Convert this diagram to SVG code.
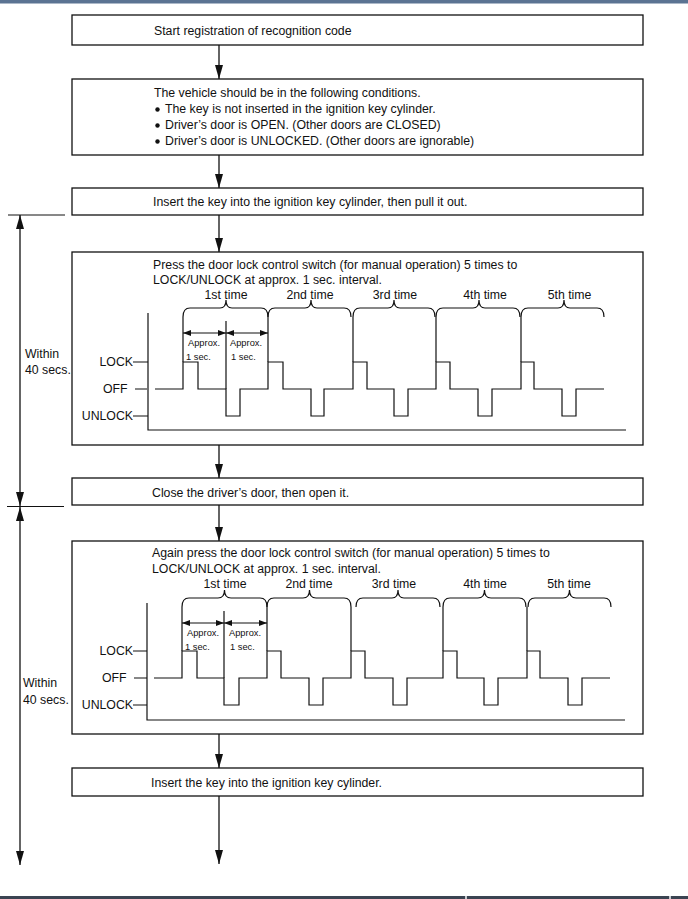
<svg xmlns="http://www.w3.org/2000/svg" width="688" height="899" viewBox="0 0 688 899">
<style>
text{font-family:"Liberation Sans",Arial,sans-serif;font-size:12.3px;fill:#111}
.sm{font-size:9.3px}
.box{fill:#fff;stroke:#111;stroke-width:1.3}
.ln{fill:none;stroke:#111;stroke-width:1.3}
.wv{fill:none;stroke:#111;stroke-width:1.2}
.thin{fill:none;stroke:#111;stroke-width:1}
</style>
<defs>
<marker id="ah" viewBox="0 0 14 8" refX="14" refY="4" markerWidth="14" markerHeight="8" markerUnits="userSpaceOnUse" orient="auto-start-reverse"><path d="M0,0 L14,4 L0,8 z" fill="#111"/></marker>
<marker id="sa" viewBox="0 0 8 6" refX="8" refY="3" markerWidth="8" markerHeight="6" markerUnits="userSpaceOnUse" orient="auto-start-reverse"><path d="M0,0 L8,3 L0,6 z" fill="#111"/></marker>
</defs>
<rect x="0" y="0" width="688" height="3.5" fill="#5b7392"/>
<rect x="0" y="896" width="688" height="3" fill="#3b4452"/>
<rect x="465" y="896" width="2" height="3" fill="#c8ccd0"/>
<rect x="669" y="896" width="2" height="3" fill="#c8ccd0"/>

<g id="connectors">
<line class="ln" x1="219" y1="45" x2="219" y2="79" marker-end="url(#ah)"/>
<line class="ln" x1="219" y1="155" x2="219" y2="188" marker-end="url(#ah)"/>
<line class="ln" x1="219" y1="215" x2="219" y2="252" marker-end="url(#ah)"/>
<line class="ln" x1="219" y1="445" x2="219" y2="478" marker-end="url(#ah)"/>
<line class="ln" x1="219" y1="505" x2="219" y2="541" marker-end="url(#ah)"/>
<line class="ln" x1="219" y1="734" x2="219" y2="768" marker-end="url(#ah)"/>
<line class="ln" x1="219" y1="796" x2="219" y2="864" marker-end="url(#ah)"/>
</g>

<g id="time-limits">
<line class="thin" x1="8" y1="215" x2="65" y2="215"/>
<line class="thin" x1="7" y1="506.5" x2="64" y2="506.5"/>
<line class="ln" x1="20" y1="215" x2="20" y2="506" marker-start="url(#ah)" marker-end="url(#ah)"/>
<line class="ln" x1="20" y1="507" x2="20" y2="865" marker-start="url(#ah)" marker-end="url(#ah)"/>
<text x="25" y="358">Within</text>
<text x="25" y="374">40 secs.</text>
<text x="23" y="687">Within</text>
<text x="23" y="704">40 secs.</text>
</g>

<g id="start">
<rect class="box" x="72" y="15" width="571" height="30"/>
<text x="154" y="35">Start registration of recognition code</text>
</g>

<g id="conditions">
<rect class="box" x="72" y="79" width="571" height="76"/>
<text x="154" y="97">The vehicle should be in the following conditions.</text>
<circle cx="157.5" cy="109.5" r="2.2" fill="#111"/>
<text x="165" y="113">The key is not inserted in the ignition key cylinder.</text>
<circle cx="157.5" cy="125.5" r="2.2" fill="#111"/>
<text x="165" y="129">Driver’s door is OPEN. (Other doors are CLOSED)</text>
<circle cx="157.5" cy="141.5" r="2.2" fill="#111"/>
<text x="165" y="145">Driver’s door is UNLOCKED. (Other doors are ignorable)</text>
</g>

<g id="insert-pull">
<rect class="box" x="72" y="188" width="571" height="27"/>
<text x="153" y="206">Insert the key into the ignition key cylinder, then pull it out.</text>
</g>

<g id="press-1">
<rect class="box" x="72" y="252" width="571" height="193"/>
<text x="153" y="269">Press the door lock control switch (for manual operation) 5 times to</text>
<text x="153" y="284">LOCK/UNLOCK at approx. 1 sec. interval.</text>
<text x="226" y="299" text-anchor="middle">1st time</text>
<text x="310" y="299" text-anchor="middle">2nd time</text>
<text x="395" y="299" text-anchor="middle">3rd time</text>
<text x="485" y="299" text-anchor="middle">4th time</text>
<text x="569.5" y="299" text-anchor="middle">5th time</text>
<path class="wv" d="M183,317 Q183,308 190,308 H220 Q226,308 226,300 Q226,308 232,308 H261 Q268,308 268,317"/>
<path class="wv" d="M268,317 Q268,308 275,308 H305 Q311,308 311,300 Q311,308 317,308 H344 Q351,308 351,317"/>
<path class="wv" d="M353,317 Q353,308 360,308 H388 Q394,308 394,300 Q394,308 400,308 H428 Q435,308 435,317"/>
<path class="wv" d="M436,317 Q436,308 443,308 H473 Q479,308 479,300 Q479,308 485,308 H513 Q520,308 520,317"/>
<path class="wv" d="M521,317 Q521,308 528,308 H558 Q564,308 564,300 Q564,308 570,308 H597 Q604,308 604,317"/>
<path class="wv" d="M183,317 V362 M226,321 V389 M268,317 V362 M353,317 V362 M436,317 V362 M521,317 V362"/>
<line class="wv" x1="183" y1="333" x2="226" y2="333" marker-start="url(#sa)" marker-end="url(#sa)"/>
<line class="wv" x1="226" y1="333" x2="268" y2="333" marker-start="url(#sa)" marker-end="url(#sa)"/>
<text class="sm" x="188" y="346">Approx.</text>
<text class="sm" x="186" y="360">1 sec.</text>
<text class="sm" x="230" y="346">Approx.</text>
<text class="sm" x="231" y="360">1 sec.</text>
<path class="wv" d="M148,313 V430 H626"/>
<text x="133" y="366" text-anchor="end">LOCK</text>
<text x="103" y="393">OFF</text>
<text x="133" y="420" text-anchor="end">UNLOCK</text>
<path class="wv" d="M133,362 H148 M135,389 H147 M133,416 H148"/>
<path class="wv" d="M155,389 H183 V362 H198 V389 H226 V416 H240 V389 H268 V362 H283 V389 H311 V416 H324 V389 H353 V362 H367 V389 H394 V416 H408 V389 H436 V362 H450 V389 H478 V416 H492 V389 H521 V362 H534 V389 H562 V416 H576 V389 H604"/>
</g>

<g id="close-open">
<rect class="box" x="72" y="478" width="571" height="27"/>
<text x="152" y="497">Close the driver’s door, then open it.</text>
</g>

<g id="press-2">
<rect class="box" x="72" y="541" width="571" height="193"/>
<text x="152" y="557">Again press the door lock control switch (for manual operation) 5 times to</text>
<text x="152" y="573">LOCK/UNLOCK at approx. 1 sec. interval.</text>
<text x="225" y="588" text-anchor="middle">1st time</text>
<text x="309" y="588" text-anchor="middle">2nd time</text>
<text x="394" y="588" text-anchor="middle">3rd time</text>
<text x="485" y="588" text-anchor="middle">4th time</text>
<text x="569" y="588" text-anchor="middle">5th time</text>
<path class="wv" d="M182,607 Q182,598 189,598 H218 Q224.5,598 224.5,590 Q224.5,598 231,598 H260 Q267,598 267,607"/>
<path class="wv" d="M267,607 Q267,598 274,598 H303 Q309.5,598 309.5,590 Q309.5,598 316,598 H344 Q351,598 351,607"/>
<path class="wv" d="M356,607 Q356,598 363,598 H392 Q398,598 398,590 Q398,598 404,598 H433 Q440,598 440,607"/>
<path class="wv" d="M443,607 Q443,598 450,598 H478 Q484.5,598 484.5,590 Q484.5,598 491,598 H519 Q526,598 526,607"/>
<path class="wv" d="M528,607 Q528,598 535,598 H563 Q569.5,598 569.5,590 Q569.5,598 576,598 H604 Q611,598 611,607"/>
<path class="wv" d="M182,607 V651 M224,611 V678 M267,607 V651 M351,607 V651 M443,607 V651 M527,607 V651"/>
<line class="wv" x1="182" y1="623" x2="224" y2="623" marker-start="url(#sa)" marker-end="url(#sa)"/>
<line class="wv" x1="224" y1="623" x2="267" y2="623" marker-start="url(#sa)" marker-end="url(#sa)"/>
<text class="sm" x="187" y="636">Approx.</text>
<text class="sm" x="185" y="650">1 sec.</text>
<text class="sm" x="229" y="636">Approx.</text>
<text class="sm" x="230" y="650">1 sec.</text>
<path class="wv" d="M147,603 V720 H625"/>
<text x="133" y="655" text-anchor="end">LOCK</text>
<text x="102" y="682">OFF</text>
<text x="133" y="709" text-anchor="end">UNLOCK</text>
<path class="wv" d="M133,651 H147 M134,678 H147 M133,705 H147"/>
<path class="wv" d="M154,678 H182 V651 H197 V678 H224 V705 H239 V678 H267 V651 H281 V678 H309 V705 H323 V678 H351 V651 H365 V678 H393 V705 H407 V678 H443 V651 H457 V678 H484 V705 H498 V678 H527 V651 H540 V678 H568 V705 H582 V678 H610"/>
</g>

<g id="insert-key">
<rect class="box" x="72" y="768" width="571" height="28"/>
<text x="151" y="787">Insert the key into the ignition key cylinder.</text>
</g>
</svg>
